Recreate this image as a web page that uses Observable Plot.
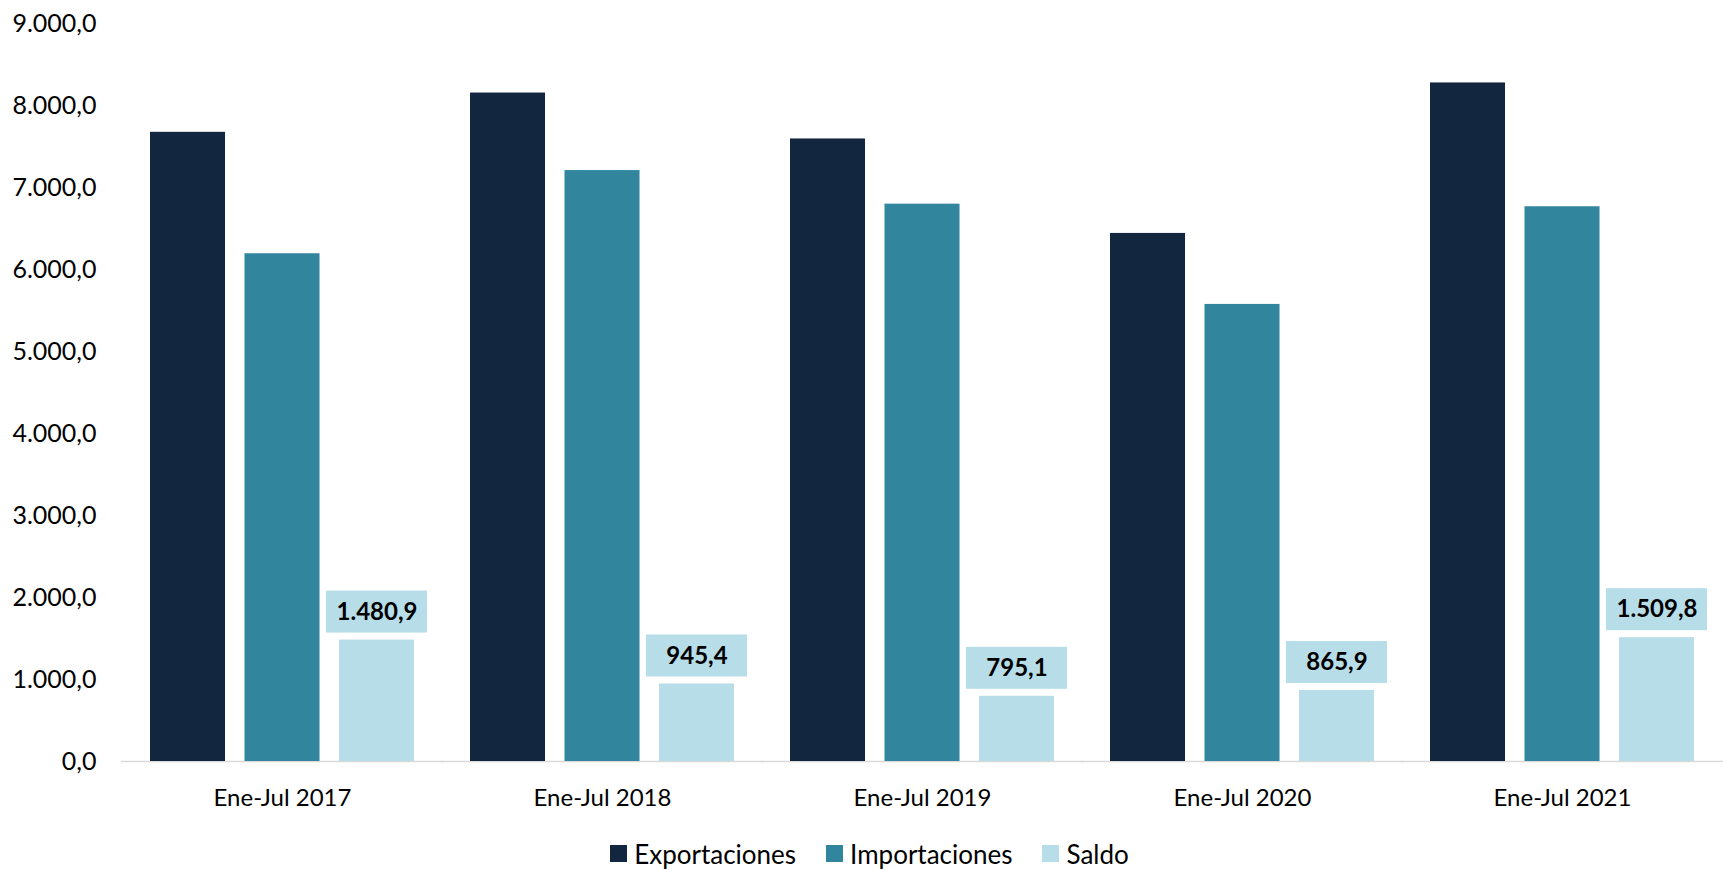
<!DOCTYPE html>
<html>
<head>
<meta charset="utf-8">
<script src="https://cdn.jsdelivr.net/npm/d3@7"></script>
<script src="https://cdn.jsdelivr.net/npm/@observablehq/plot@0.6"></script>
<style>
  html, body { margin: 0; padding: 0; background: #fff; }
  body { font-family: Lato, "Noto Sans", sans-serif; }
  #legend { display: flex; justify-content: center; align-items: center; gap: 30px; font-size: 26px; color: #000; height: 37px; margin-left: 16px; }
  #legend .item { display: flex; align-items: center; gap: 7px; }
  #legend .sw { width: 17px; height: 17px; display: inline-block; }
</style>
</head>
<body>
<div id="chart"></div>
<div id="legend"></div>
<script>
const periods = ["Ene-Jul 2017", "Ene-Jul 2018", "Ene-Jul 2019", "Ene-Jul 2020", "Ene-Jul 2021"];
const seriesNames = ["Exportaciones", "Importaciones", "Saldo"];
const exportaciones = [7673.0, 8152.0, 7592.0, 6440.0, 8275.0];
const importaciones = [6192.1, 7206.6, 6796.9, 5574.1, 6765.2];
const saldo = [1480.9, 945.4, 795.1, 865.9, 1509.8];
const colors = ["#12263f", "#31869e", "#b7dde8"];
const yTicks = [0, 1000, 2000, 3000, 4000, 5000, 6000, 7000, 8000, 9000];

const rows = [];
periods.forEach((p, i) => {
  rows.push({period: p, series: seriesNames[0], value: exportaciones[i]});
  rows.push({period: p, series: seriesNames[1], value: importaciones[i]});
  rows.push({period: p, series: seriesNames[2], value: saldo[i]});
});
const saldoRows = rows.filter(d => d.series === "Saldo");

const es = d3.formatLocale({decimal: ",", thousands: ".", grouping: [3], currency: ["", ""]});
const fmt = es.format(",.1f");

const chart = Plot.plot({
  width: 1723,
  height: 835,
  marginLeft: 122,
  marginRight: 1,
  marginTop: 23,
  marginBottom: 74,
  style: {fontFamily: "Lato, 'Noto Sans', sans-serif", fontSize: "24px", color: "#000", background: "#fff"},
  fx: {domain: periods, paddingInner: 0.175, paddingOuter: 0.0875, label: null, axis: null, round: false},
  x: {domain: seriesNames, paddingInner: 0.206, paddingOuter: 0, axis: null, round: false},
  y: {domain: [0, 9000], axis: null, label: null},
  color: {domain: seriesNames, range: colors},
  marks: [
    Plot.ruleY([0], {stroke: "#d9d9d9", strokeWidth: 1.5, insetLeft: -29, insetRight: -29}),
    Plot.axisY({ticks: yTicks, tickFormat: fmt, tickSize: 0, tickPadding: 3, dx: -51, fontSize: 25, label: null}),
    Plot.axisFx({anchor: "bottom", tickSize: 0, tickPadding: 3, dy: 24, fontSize: 24, label: null}),
    Plot.barY(rows, {fx: "period", x: "series", y: "value", fill: "series"}),
    Plot.barY(saldoRows, {fx: "period", x: "series", y1: "value", y2: "value", fill: "#b7dde8",
      insetTop: -49, insetBottom: 7, insetLeft: -13, insetRight: -13}),
    Plot.text(saldoRows, {fx: "period", x: "series", y: "value", text: d => fmt(d.value), dy: -28,
      fontWeight: "bold", fontSize: 24, fill: "#000", lineAnchor: "middle"})
  ]
});
document.getElementById("chart").appendChild(chart);

const legend = document.getElementById("legend");
seriesNames.forEach((name, i) => {
  const item = document.createElement("div");
  item.className = "item";
  const sw = document.createElement("span");
  sw.className = "sw";
  sw.style.background = colors[i];
  const label = document.createElement("span");
  label.textContent = name;
  item.appendChild(sw);
  item.appendChild(label);
  legend.appendChild(item);
});
</script>
</body>
</html>
